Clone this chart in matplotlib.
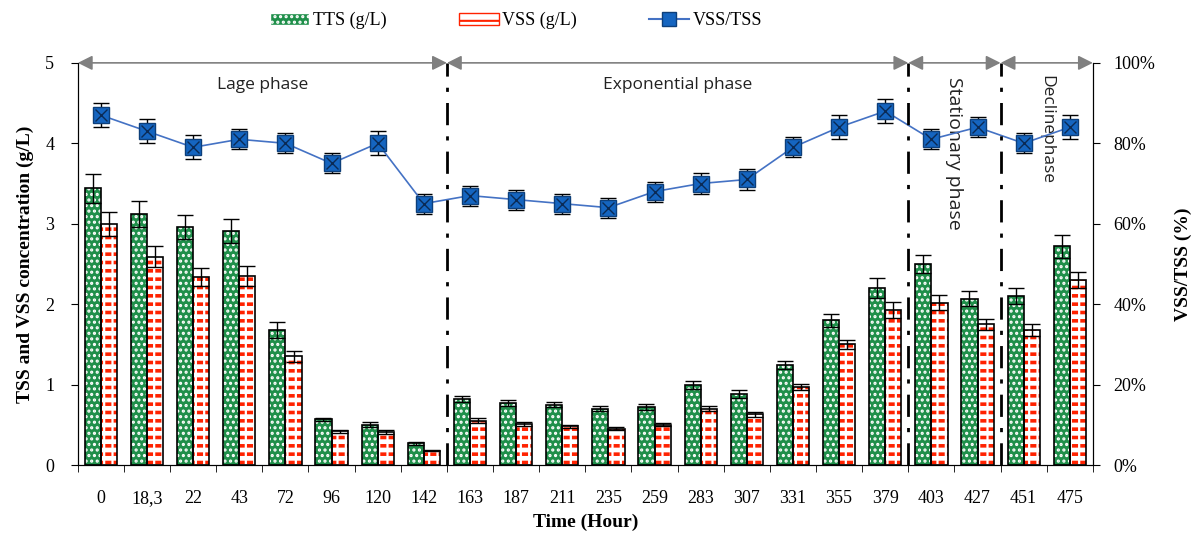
import numpy as np
import matplotlib
matplotlib.use("Agg")
import matplotlib.pyplot as plt
from matplotlib.lines import Line2D
from matplotlib.patches import Patch

# Données
times = ["0", "18,3", "22", "43", "72", "96", "120", "142", "163", "187", "211",
         "235", "259", "283", "307", "331", "355", "379", "403", "427", "451", "475"]
tss = [3.44, 3.12, 2.96, 2.91, 1.68, 0.57, 0.50, 0.27, 0.82, 0.77, 0.75,
       0.70, 0.72, 1.00, 0.88, 1.24, 1.80, 2.20, 2.50, 2.07, 2.10, 2.72]
tss_err = [0.18, 0.16, 0.15, 0.15, 0.10, 0.02, 0.03, 0.02, 0.04, 0.04, 0.03,
           0.03, 0.04, 0.05, 0.05, 0.05, 0.08, 0.12, 0.11, 0.09, 0.10, 0.14]
vss = [3.00, 2.59, 2.34, 2.35, 1.35, 0.42, 0.41, 0.18, 0.55, 0.51, 0.48,
       0.45, 0.50, 0.70, 0.63, 0.97, 1.50, 1.93, 2.02, 1.75, 1.68, 2.30]
vss_err = [0.15, 0.13, 0.11, 0.13, 0.07, 0.02, 0.02, 0.01, 0.03, 0.02, 0.02,
           0.02, 0.02, 0.03, 0.03, 0.04, 0.06, 0.10, 0.09, 0.07, 0.07, 0.10]
ratio = [87, 83, 79, 81, 80, 75, 80, 65, 67, 66, 65,
         64, 68, 70, 71, 79, 84, 88, 81, 84, 80, 84]
ratio_err = [3, 3, 3, 2.5, 2.5, 2.5, 3, 2.5, 2.5, 2.5, 2.5,
             2.5, 2.5, 2.5, 2.5, 2.5, 3, 3, 2.5, 2.5, 2.5, 3]

# Phases: (début, fin) en indice de catégorie
phases = [("Lage phase", 0, 8), ("Exponential phase", 8, 18),
          ("Stationary phase", 18, 20), ("Declinephase", 20, 22)]

plt.rcParams['font.family'] = ['Liberation Serif', 'DejaVu Serif']
plt.rcParams['hatch.linewidth'] = 1.5

fig = plt.figure(figsize=(11.97, 5.42), dpi=100)
ax = fig.add_axes([0.065, 0.142, 0.848, 0.742])

x = np.arange(len(times)) + 0.5
w = 0.35
green = '#1f8f4a'
red = '#ff2200'

# barres TSS: fond vert avec points blancs
ax.bar(x - w / 2, tss, w, color=green, edgecolor='white', hatch='...', linewidth=0, zorder=2)
ax.bar(x - w / 2, tss, w, fill=False, edgecolor='black', linewidth=1.2, zorder=3)
ax.errorbar(x - w / 2, tss, yerr=tss_err, fmt='none', ecolor='black', elinewidth=1, capsize=6, zorder=4)

# barres VSS: tirets rouges sur fond blanc (lignes coupées par un hachurage blanc)
with plt.rc_context({'hatch.linewidth': 2.6}):
    ax.bar(x + w / 2, vss, w, color='white', edgecolor=red, hatch='--', linewidth=0, zorder=2)
with plt.rc_context({'hatch.linewidth': 1.6}):
    ax.bar(x + w / 2, vss, w, fill=False, edgecolor='white', hatch='||', linewidth=0, zorder=2.5)
ax.bar(x + w / 2, vss, w, fill=False, edgecolor='black', linewidth=1.2, zorder=3)
ax.errorbar(x + w / 2, vss, yerr=vss_err, fmt='none', ecolor='black', elinewidth=1, capsize=6, zorder=4)

ax.set_xlim(0, len(times))
ax.set_ylim(0, 5)
ax.set_yticks(range(6))
ax.set_xticks(x)
ax.set_xticklabels(times)
ax.set_xticks(np.arange(len(times) + 1), minor=True)
ax.tick_params(axis='x', which='major', length=0, pad=18, labelsize=13)
ax.tick_params(axis='x', which='minor', length=5, direction='out')
ax.tick_params(axis='y', labelsize=13, length=5, pad=12)
ax.spines['top'].set_visible(False)
ax.set_ylabel('TSS and VSS concentration (g/L)', fontsize=14, fontweight='bold', labelpad=8)
ax.set_xlabel('Time (Hour)', fontsize=14, fontweight='bold', labelpad=5)

# axe de droite: rapport VSS/TSS
ax2 = ax.twinx()
ax2.set_ylim(0, 100)
ax2.set_yticks(range(0, 101, 20))
ax2.set_yticklabels([f'{v}%' for v in range(0, 101, 20)])
ax2.tick_params(axis='y', labelsize=13, length=5, pad=10)
ax2.spines['top'].set_visible(False)
ax2.set_ylabel('VSS/TSS (%)', fontsize=14, fontweight='bold', labelpad=14)
ax2.errorbar(x, ratio, yerr=ratio_err, fmt='none', ecolor='black', elinewidth=1, capsize=6, zorder=4)
ax2.plot(x, ratio, color='#4472c4', linewidth=1.2, marker='s', markersize=11,
         markerfacecolor='#1565c0', markeredgecolor='#0d3f7a', zorder=5)
ax2.plot(x, ratio, linestyle='none', marker='x', markersize=9, color='#0a2a55',
         markeredgewidth=1, zorder=6)

# séparations et flèches des phases
for name, a, b in phases:
    ax2.annotate('', xy=(a, 100), xytext=(b, 100),
                 arrowprops=dict(arrowstyle='<|-|>', mutation_scale=22, color='#808080',
                                 shrinkA=0, shrinkB=0, linewidth=1.2),
                 annotation_clip=False, zorder=7)
    if b < len(times):
        ax2.axvline(b, color='black', linestyle=(0, (8, 4, 1.5, 4)), linewidth=2, zorder=6)

ax2.text(4, 94.5, 'Lage phase', ha='center', va='center', fontsize=12.5, family='Open Sans', color='#222222')
ax2.text(13, 94.5, 'Exponential phase', ha='center', va='center', fontsize=12.5, family='Open Sans', color='#222222')
ax2.text(19, 96.5, 'Stationary phase', ha='center', va='top', rotation=-90, fontsize=14,
         family='Open Sans', color='#222222')
ax2.text(21, 97, 'Declinephase', ha='center', va='top', rotation=-90, fontsize=12.5,
         family='Open Sans', color='#222222')

# légende en haut
with plt.rc_context({'hatch.linewidth': 2.0}):
    handles = [
        Patch(facecolor=green, edgecolor='white', hatch='...'),
        Patch(facecolor='white', edgecolor=red, hatch='--'),
        Line2D([0], [0], color='#4472c4', marker='s', markersize=10,
               markerfacecolor='#1565c0', markeredgecolor='#0d3f7a'),
    ]
fig.legend(handles, ['TTS (g/L)', 'VSS (g/L)', 'VSS/TSS'], loc='upper center',
           bbox_to_anchor=(0.431, 1.008), ncol=3, frameon=False, fontsize=13,
           columnspacing=4.0, handlelength=2.2, handletextpad=0.2)

fig.savefig('out.png', dpi=100)
